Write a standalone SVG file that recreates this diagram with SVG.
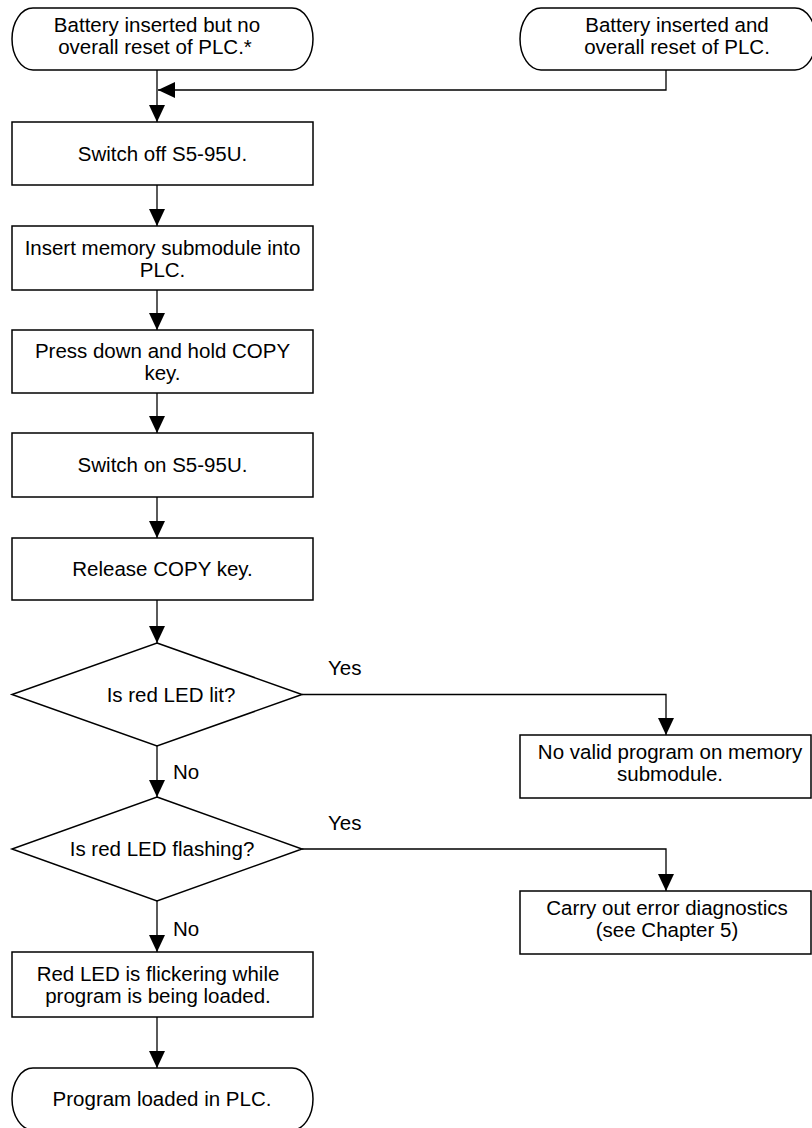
<svg xmlns="http://www.w3.org/2000/svg" width="812" height="1128" viewBox="0 0 812 1128">
<style>
.s{fill:#fff;stroke:#000;stroke-width:1.5}
.c{fill:none;stroke:#000;stroke-width:1.3}
text{font-family:"Liberation Sans",Arial,sans-serif;font-size:20.5px;fill:#000;text-anchor:middle}
.l{text-anchor:start}
</style>
<defs>
<marker id="ah" markerUnits="userSpaceOnUse" markerWidth="18" markerHeight="17" refX="17" refY="8" orient="auto">
<path d="M0,0 L17,8 L0,16 Z" fill="#000"/>
</marker>
</defs>
<rect width="812" height="1128" fill="#fff"/>
<g id="connectors">
<path class="c" d="M157 70 V122" marker-end="url(#ah)"/>
<path class="c" d="M666 70 V90 H158" marker-end="url(#ah)"/>
<path class="c" d="M157 185 V226" marker-end="url(#ah)"/>
<path class="c" d="M157 290 V330" marker-end="url(#ah)"/>
<path class="c" d="M157 393 V433" marker-end="url(#ah)"/>
<path class="c" d="M157 497 V538" marker-end="url(#ah)"/>
<path class="c" d="M157 600 V643" marker-end="url(#ah)"/>
<path class="c" d="M157 746 V797" marker-end="url(#ah)"/>
<path class="c" d="M157 901 V952" marker-end="url(#ah)"/>
<path class="c" d="M157 1017 V1068" marker-end="url(#ah)"/>
<path class="c" d="M302 694.5 H666 V735" marker-end="url(#ah)"/>
<path class="c" d="M302 849 H666 V891" marker-end="url(#ah)"/>
<text class="l" x="328" y="675">Yes</text>
<text class="l" x="328" y="830">Yes</text>
<text class="l" x="173" y="779">No</text>
<text class="l" x="173" y="936">No</text>
</g>
<g id="start1">
<path class="s" d="M33 8 H292 A21 31 0 0 1 292 70 H33 A21 31 0 0 1 33 8 Z"/>
<text x="157" y="32">Battery inserted but no</text>
<text x="155" y="54">overall reset of PLC.*</text>
</g>
<g id="start2">
<path class="s" d="M541 8 H795 A21 31 0 0 1 795 70 H541 A21 31 0 0 1 541 8 Z"/>
<text x="677" y="32">Battery inserted and</text>
<text x="677" y="54">overall reset of PLC.</text>
</g>
<g id="switchoff">
<rect class="s" x="12" y="122" width="301" height="63"/>
<text x="162.5" y="161">Switch off S5-95U.</text>
</g>
<g id="insert">
<rect class="s" x="12" y="226" width="301" height="64"/>
<text x="162.5" y="255">Insert memory submodule into</text>
<text x="162.5" y="277">PLC.</text>
</g>
<g id="press">
<rect class="s" x="12" y="330" width="301" height="63"/>
<text x="162.5" y="358">Press down and hold COPY</text>
<text x="162.5" y="380">key.</text>
</g>
<g id="switchon">
<rect class="s" x="12" y="433" width="301" height="64"/>
<text x="162.5" y="472">Switch on S5-95U.</text>
</g>
<g id="release">
<rect class="s" x="12" y="538" width="301" height="62"/>
<text x="162.5" y="576">Release COPY key.</text>
</g>
<g id="decision1">
<path class="s" d="M157 643 L302 694.5 L157 746 L12 694.5 Z"/>
<text x="171" y="702">Is red LED lit?</text>
</g>
<g id="decision2">
<path class="s" d="M157 797 L302 849 L157 901 L12 849 Z"/>
<text x="162" y="856">Is red LED flashing?</text>
</g>
<g id="novalid">
<rect class="s" x="520" y="735" width="291" height="63"/>
<text x="670" y="759">No valid program on memory</text>
<text x="670" y="781">submodule.</text>
</g>
<g id="diagnostics">
<rect class="s" x="520" y="891" width="291" height="63"/>
<text x="667" y="915">Carry out error diagnostics</text>
<text x="667" y="937">(see Chapter 5)</text>
</g>
<g id="flicker">
<rect class="s" x="12" y="952" width="301" height="65"/>
<text x="158" y="981">Red LED is flickering while</text>
<text x="158" y="1003">program is being loaded.</text>
</g>
<g id="end">
<path class="s" d="M33 1068 H292 A21 31 0 0 1 292 1130 H33 A21 31 0 0 1 33 1068 Z"/>
<text x="162" y="1106">Program loaded in PLC.</text>
</g>
</svg>
